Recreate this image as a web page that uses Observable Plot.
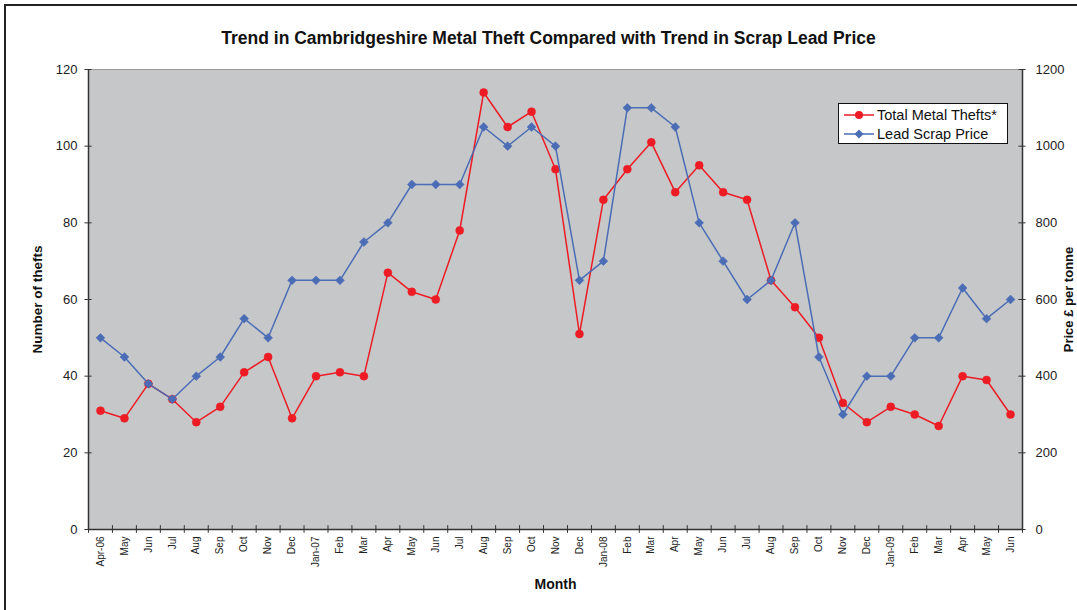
<!DOCTYPE html>
<html>
<head>
<meta charset="utf-8">
<script src="https://cdn.jsdelivr.net/npm/d3@7"></script>
<script src="https://cdn.jsdelivr.net/npm/@observablehq/plot@0.6"></script>
<style>
  body { margin: 0; background: #fff; font-family: "Liberation Sans", Arial, sans-serif; }
  #wrap { position: relative; width: 1077px; height: 610px; overflow: hidden; }
  #border { position: absolute; left: 4px; top: 4px; width: 1200px; height: 700px; border-left: 2px solid #222; border-top: 2px solid #222; pointer-events: none; }
  #legend { position: absolute; left: 838px; top: 103px; width: 168px; height: 39px; background: #fff; border: 1px solid #111; font-size: 14.5px; color: #111; }
  .row { position: absolute; left: 4px; height: 17px; display: flex; align-items: center; white-space: nowrap; }
  .row svg { margin-right: 2px; }
</style>
</head>
<body>
<div id="wrap">
  <div id="chart"></div>
  <div id="border"></div>
  <div id="legend"></div>
</div>
<script>
const months = ["Apr-06","May","Jun","Jul","Aug","Sep","Oct","Nov","Dec","Jan-07","Feb","Mar",
  "Apr","May","Jun","Jul","Aug","Sep","Oct","Nov","Dec","Jan-08","Feb","Mar",
  "Apr","May","Jun","Jul","Aug","Sep","Oct","Nov","Dec","Jan-09","Feb","Mar",
  "Apr","May","Jun"];
const thefts = [31,29,38,34,28,32,41,45,29,40,41,40,
  67,62,60,78,114,105,109,94,51,86,94,101,
  88,95,88,86,65,58,50,33,28,32,30,27,
  40,39,30];
const leadPrice = [500,450,380,340,400,450,550,500,650,650,650,750,
  800,900,900,900,1050,1000,1050,1000,650,700,1100,1100,
  1050,800,700,600,650,800,450,300,400,400,500,500,
  630,550,600];
const leftTicks = [0,20,40,60,80,100,120];
const rightTicks = [0,200,400,600,800,1000,1200];
const seriesNames = ["Total Metal Thefts*","Lead Scrap Price"];
const titleText = "Trend in Cambridgeshire Metal Theft Compared with Trend in Scrap Lead Price";
const xTitle = "Month";
const yLeftTitle = "Number of thefts";
const yRightTitle = "Price £ per tonne";

const red = "#ed1c24";
const blue = "#4b6db6";

const theftData = thefts.map((v, i) => ({i: i + 0.5, v}));
const priceData = leadPrice.map((v, i) => ({i: i + 0.5, v: v / 10}));

const chart = Plot.plot({
  width: 1077,
  height: 610,
  marginLeft: 88,
  marginRight: 55,
  marginTop: 69,
  marginBottom: 81,
  style: {fontFamily: "'Liberation Sans', Arial, sans-serif", fontSize: "13px", background: "transparent", color: "#222", overflow: "visible"},
  x: {domain: [0, months.length], axis: null},
  y: {domain: [0, 120], axis: null},
  marks: [
    Plot.frame({fill: "#c6c7c9", stroke: "#9a9a9a"}),
    // axis lines
    Plot.ruleX([0], {stroke: "#333", strokeWidth: 1.5}),
    Plot.ruleX([months.length], {stroke: "#333", strokeWidth: 1.5}),
    Plot.ruleY([0], {stroke: "#333", strokeWidth: 1.5}),
    // crossing tick marks
    Plot.ruleX(d3.range(months.length + 1), {y1: -1.0, y2: 1.0, stroke: "#333"}),
    Plot.ruleY(leftTicks, {x1: -0.15, x2: 0.15, stroke: "#333"}),
    Plot.ruleY(rightTicks.map(d => d / 10), {x1: months.length - 0.15, x2: months.length + 0.15, stroke: "#333"}),
    // axes labels
    Plot.axisX({ticks: d3.range(months.length).map(i => i + 0.5), tickFormat: d => months[Math.floor(d)], tickRotate: -90, tickSize: 0, tickPadding: 7, fontSize: 10, label: null}),
    Plot.axisY({anchor: "left", ticks: leftTicks, tickSize: 0, tickPadding: 11, label: null, fontSize: 13}),
    Plot.axisY({anchor: "right", ticks: rightTicks.map(d => d / 10), tickFormat: d => String(Math.round(d * 10)), tickSize: 0, tickPadding: 13, label: null, fontSize: 13}),
    // series
    Plot.line(theftData, {x: "i", y: "v", stroke: red, strokeWidth: 1.5}),
    Plot.dot(theftData, {x: "i", y: "v", r: 4, fill: red, stroke: red, strokeWidth: 0.5}),
    Plot.line(priceData, {x: "i", y: "v", stroke: blue, strokeWidth: 1.5}),
    Plot.dot(priceData, {x: "i", y: "v", r: 4, symbol: "diamond2", fill: blue, stroke: blue, strokeWidth: 0.5}),
    // titles
    Plot.text([titleText], {frameAnchor: "top", lineAnchor: "middle", dx: -7, dy: -31, fontWeight: "bold", fontSize: 17.5, fill: "#111"}),
    Plot.text([xTitle], {frameAnchor: "bottom", lineAnchor: "middle", dx: 0, dy: 55, fontWeight: "bold", fontSize: 14, fill: "#111"}),
    Plot.text([yLeftTitle], {frameAnchor: "left", textAnchor: "middle", lineAnchor: "middle", dx: -51, rotate: -90, fontWeight: "bold", fontSize: 13.5, fill: "#111"}),
    Plot.text([yRightTitle], {frameAnchor: "right", textAnchor: "middle", lineAnchor: "middle", dx: 46, rotate: -90, fontWeight: "bold", fontSize: 13, fill: "#111"})
  ]
});
document.getElementById("chart").appendChild(chart);

// legend
const legend = d3.select("#legend");
const entries = [
  {name: seriesNames[0], color: red, sym: "circle"},
  {name: seriesNames[1], color: blue, sym: "diamond"}
];
entries.forEach((e, k) => {
  const row = legend.append("div").attr("class", "row").style("top", (2 + k * 19) + "px");
  const svg = row.append("svg").attr("width", 32).attr("height", 14);
  svg.append("line").attr("x1", 1).attr("x2", 31).attr("y1", 7).attr("y2", 7).attr("stroke", e.color).attr("stroke-width", 1.5);
  if (e.sym === "circle") svg.append("circle").attr("cx", 16).attr("cy", 7).attr("r", 4).attr("fill", e.color);
  else svg.append("path").attr("d", d3.symbol(d3.symbolSquare, 40)()).attr("transform", "translate(16,7) rotate(45)").attr("fill", e.color);
  row.append("span").text(e.name);
});
</script>
</body>
</html>
